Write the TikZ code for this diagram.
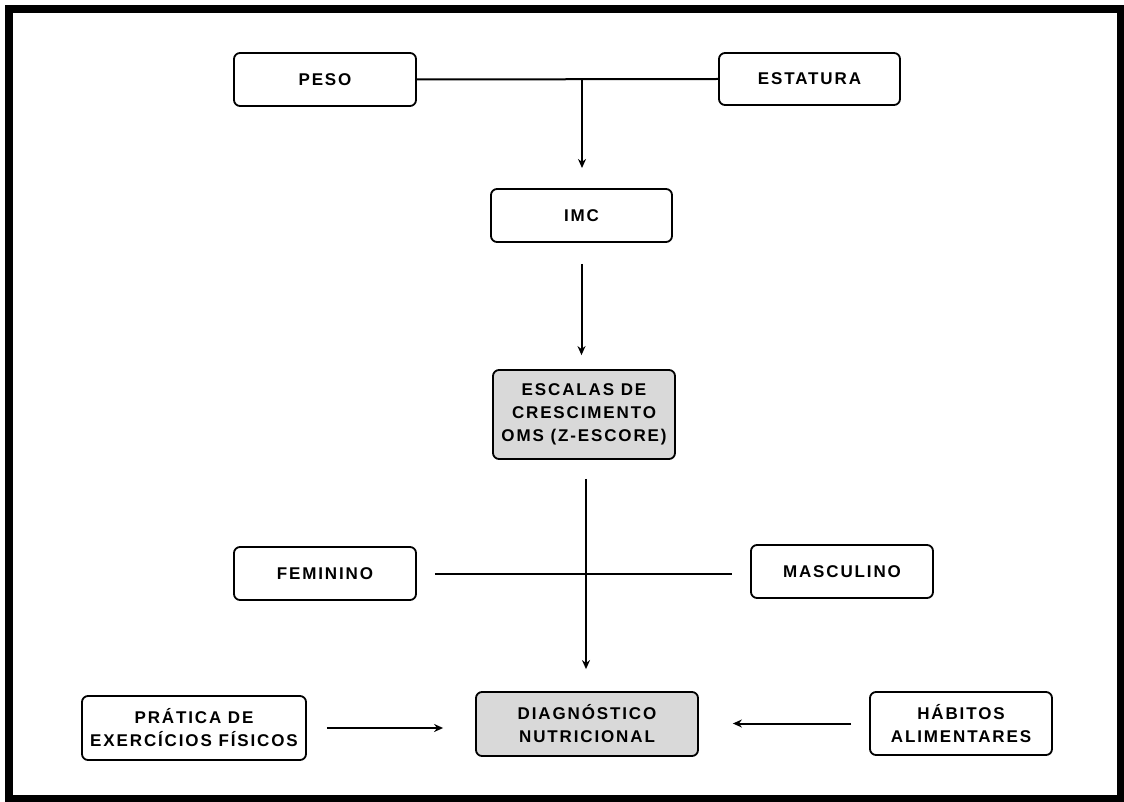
\documentclass[tikz,border=0pt]{standalone}
\usepackage{fontspec}
\setmainfont{Liberation Sans}[LetterSpace=11, BoldFont={Liberation Sans Bold}]
\usetikzlibrary{arrows.meta}
\definecolor{boxgray}{HTML}{D9D9D9}
\begin{document}
\begin{tikzpicture}[x=1pt,y=-1pt,
  box/.style={draw=black, line width=1.8pt, rounded corners=6pt, fill=white,
    align=center, inner sep=0pt, font=\fontsize{17}{23}\selectfont\bfseries},
  graybox/.style={box, fill=boxgray},
  conn/.style={draw=black, line width=2pt},
  arr/.style={conn, -{Stealth[length=9pt,width=8pt]}}]
\useasboundingbox (0,0) rectangle (1124,802);
\draw[line width=7.5pt] (9,9) rectangle (1120.5,798.5);

\node[box, minimum width=182, minimum height=53] (peso) at (325,79.5) {PESO};
\node[box, minimum width=181, minimum height=52] (estatura) at (809.5,79) {ESTATURA};
\node[box, minimum width=181, minimum height=53] (imc) at (581.5,215.5) {IMC};
\node[graybox, minimum width=182, minimum height=89] (escalas) at (584,414.5) {ESCALAS DE\\CRESCIMENTO\\OMS (Z-ESCORE)};
\node[box, minimum width=182, minimum height=53] (feminino) at (325,573.5) {FEMININO};
\node[box, minimum width=182, minimum height=53] (masculino) at (842,571.5) {MASCULINO};
\node[box, minimum width=224, minimum height=64] (pratica) at (194,728) {PRÁTICA DE\\EXERCÍCIOS FÍSICOS};
\node[graybox, minimum width=222, minimum height=64] (diag) at (587,724) {DIAGNÓSTICO\\NUTRICIONAL};
\node[box, minimum width=182, minimum height=63] (habitos) at (961,723.5) {HÁBITOS\\ALIMENTARES};

\coordinate (j1) at (582,79);
\coordinate (j1end) at (582,168);
\draw[conn] (peso.east) -- (estatura.west);
\draw[arr] (j1) -- (j1end);
\draw[arr, shorten <=21pt, shorten >=14pt] (imc.south) -- (imc.south |- escalas.north);
\draw[arr, shorten <=19pt, shorten >=22pt] ([xshift=2pt]escalas.south) -- ([xshift=2pt]escalas.south |- diag.north);
\draw[conn, shorten <=18pt, shorten >=18pt] (feminino.east) -- (feminino.east -| masculino.west);
\draw[arr, shorten <=20pt, shorten >=32pt] (pratica.east) -- (pratica.east -| diag.west);
\draw[arr, shorten <=18pt, shorten >=34pt] (habitos.west) -- (habitos.west -| diag.east);
\end{tikzpicture}
\end{document}
